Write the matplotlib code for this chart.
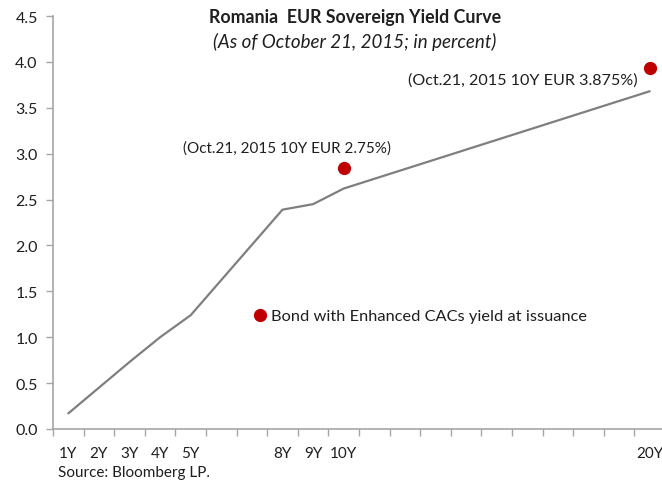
import matplotlib
matplotlib.use("Agg")
import matplotlib.pyplot as plt
from matplotlib.lines import Line2D

plt.rcParams['font.family'] = ['Lato', 'DejaVu Sans']

# Data
tenors = [1, 2, 3, 4, 5, 8, 9, 10, 20]
yields = [0.17, 0.45, 0.73, 1.00, 1.24, 2.39, 2.45, 2.62, 3.68]
bond_tenors = [10, 20]
bond_yields = [2.84, 3.93]
bond_labels = ["(Oct.21, 2015 10Y EUR 2.75%)", "(Oct.21, 2015 10Y EUR 3.875%)"]
categories = list(range(1, 21))
cat_labels = {1: "1Y", 2: "2Y", 3: "3Y", 4: "4Y", 5: "5Y", 8: "8Y", 9: "9Y", 10: "10Y", 20: "20Y"}
y_ticks = [0.0, 0.5, 1.0, 1.5, 2.0, 2.5, 3.0, 3.5, 4.0, 4.5]

fig = plt.figure(figsize=(6.62, 4.89), dpi=100)
ax = fig.add_axes([53/662, 59/489, 612/662, 413/489])

text_color = '#1f1f1f'
axis_color = '#a6a6a6'

ax.plot(tenors, yields, color='#7f7f7f', lw=1.6, solid_capstyle='round')
ax.plot(bond_tenors, bond_yields, 'o', color='#c00000', markersize=8.5, ls='none')

ax.set_xlim(0.5, 20.5)
ax.set_ylim(0, 4.5)

# y axis
ax.set_yticks(y_ticks)
ax.set_yticklabels([f"{v:.1f}" for v in y_ticks])
# x axis: ticks at category boundaries, labels at category centers
ax.set_xticks([c - 0.5 for c in categories] + [categories[-1] + 0.5])
ax.set_xticklabels([])
ax.set_xticks(categories, minor=True)
ax.set_xticklabels([cat_labels.get(c, "") for c in categories], minor=True)
ax.tick_params(axis='x', which='minor', length=0, pad=12, labelsize=11, labelcolor=text_color)
ax.tick_params(axis='x', which='major', length=5, direction='out', color=axis_color, width=1)
ax.tick_params(axis='y', length=5, direction='out', color=axis_color, width=1, labelsize=11.5,
               labelcolor=text_color, pad=6)

for s in ['top', 'right']:
    ax.spines[s].set_visible(False)
for s in ['left', 'bottom']:
    ax.spines[s].set_color(axis_color)
    ax.spines[s].set_linewidth(1.2)

# annotations
ax.annotate(bond_labels[0], xy=(bond_tenors[0], bond_yields[0]), xytext=(-41, 15),
            textcoords='offset points', ha='center', va='center', fontsize=11, color=text_color)
ax.annotate(bond_labels[1], xy=(bond_tenors[1], bond_yields[1]), xytext=(-91, -8),
            textcoords='offset points', ha='center', va='center', fontsize=11.6, color=text_color)

# legend
h = Line2D([], [], marker='o', color='#c00000', ls='none', markersize=8.5)
leg = ax.legend([h], ["Bond with Enhanced CACs yield at issuance"], loc='center left',
                bbox_to_anchor=(253/662, 1 - 317/489), bbox_transform=fig.transFigure,
                frameon=False, handlelength=0.8, handletextpad=0.3, borderpad=0,
                borderaxespad=0, fontsize=11.8)
for t in leg.get_texts():
    t.set_color(text_color)

fig.text(355/662, 1 - 17/489, "Romania  EUR Sovereign Yield Curve", ha='center', va='center',
         fontsize=12.8, fontweight='bold', color=text_color)
fig.text(355/662, 1 - 42/489, "(As of October 21, 2015; in percent)", ha='center', va='center',
         fontsize=13.5, style='italic', color=text_color)
fig.text(58/662, 1 - 473/489, "Source: Bloomberg LP.", ha='left', va='center',
         fontsize=11, color=text_color)

fig.savefig("out.png", dpi=100)
